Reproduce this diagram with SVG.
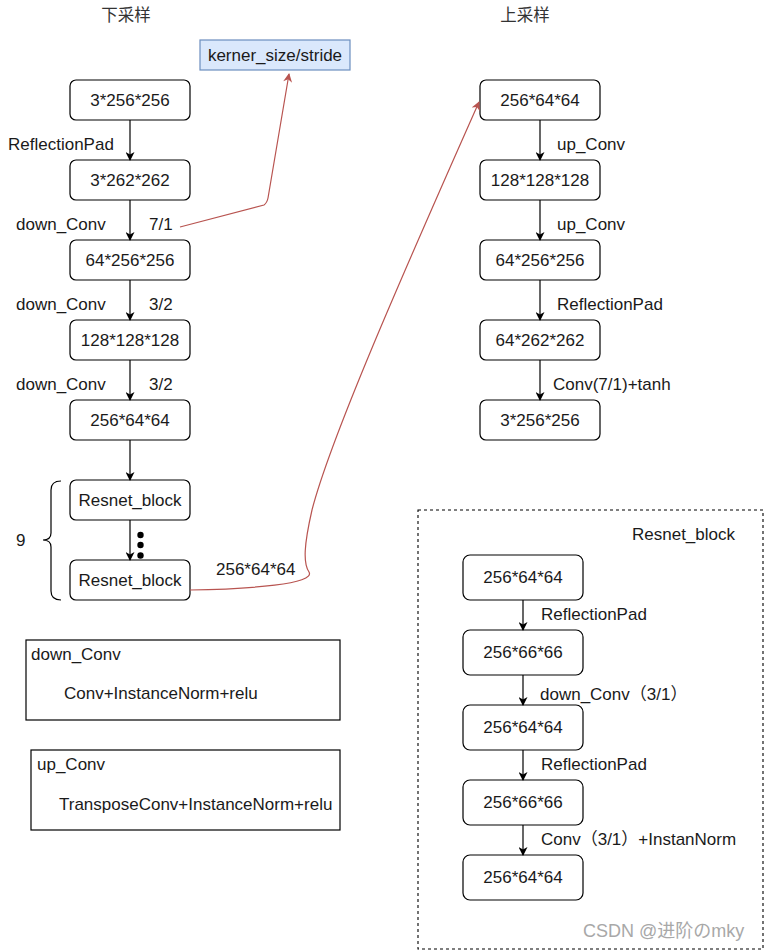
<svg xmlns="http://www.w3.org/2000/svg" width="764" height="951" viewBox="0 0 764 951">
<style>
text{font-family:"Liberation Sans",Arial,"Noto Sans CJK SC",sans-serif;font-size:17px;fill:#1a1a1a}
.c{text-anchor:middle}
.n{fill:#fff;stroke:#000;stroke-width:1.2}
.e{fill:none;stroke:#000;stroke-width:1.2}
.r{fill:none;stroke:#b85450;stroke-width:1.2}
.t{font-family:"Noto Sans CJK SC","Liberation Sans",sans-serif;font-size:16.5px;fill:#333}
</style>
<defs>
<marker id="a" viewBox="0 0 10 10" refX="9" refY="5" markerWidth="10" markerHeight="9" markerUnits="userSpaceOnUse" orient="auto"><path d="M0,0 L10,5 L0,10 L3,5 Z" fill="#000"/></marker>
<marker id="ar" viewBox="0 0 10 10" refX="9" refY="5" markerWidth="10" markerHeight="9" markerUnits="userSpaceOnUse" orient="auto"><path d="M0,0 L10,5 L0,10 L3,5 Z" fill="#b85450"/></marker>
</defs>
<rect width="764" height="951" fill="#fff"/>
<text class="t c" x="126" y="21">下采样</text>
<text class="t c" x="525" y="21">上采样</text>
<g id="note-kernel"><rect x="200" y="40" width="150" height="30" fill="#dae8fc" stroke="#6c8ebf" stroke-width="1.2"/><text class="c" x="275" y="61">kerner_size/stride</text></g>
<g id="d1"><rect class="n" x="70" y="80" width="120" height="40" rx="6"/><text class="c" x="130" y="106">3*256*256</text></g>
<g id="d2"><rect class="n" x="70" y="160" width="120" height="40" rx="6"/><text class="c" x="130" y="186">3*262*262</text></g>
<g id="d3"><rect class="n" x="70" y="240" width="120" height="40" rx="6"/><text class="c" x="130" y="266">64*256*256</text></g>
<g id="d4"><rect class="n" x="70" y="320" width="120" height="40" rx="6"/><text class="c" x="130" y="346">128*128*128</text></g>
<g id="d5"><rect class="n" x="70" y="400" width="120" height="40" rx="6"/><text class="c" x="130" y="426">256*64*64</text></g>
<g id="rb1"><rect class="n" x="70" y="480" width="120" height="40" rx="6"/><text class="c" x="130" y="506">Resnet_block</text></g>
<g id="rb2"><rect class="n" x="70" y="560" width="120" height="40" rx="6"/><text class="c" x="130" y="586">Resnet_block</text></g>
<g id="u1"><rect class="n" x="480" y="80" width="120" height="40" rx="6"/><text class="c" x="540" y="106">256*64*64</text></g>
<g id="u2"><rect class="n" x="480" y="160" width="120" height="40" rx="6"/><text class="c" x="540" y="186">128*128*128</text></g>
<g id="u3"><rect class="n" x="480" y="240" width="120" height="40" rx="6"/><text class="c" x="540" y="266">64*256*256</text></g>
<g id="u4"><rect class="n" x="480" y="320" width="120" height="40" rx="6"/><text class="c" x="540" y="346">64*262*262</text></g>
<g id="u5"><rect class="n" x="480" y="400" width="120" height="40" rx="6"/><text class="c" x="540" y="426">3*256*256</text></g>
<g id="brace"><path class="e" d="M61,481 Q51,481 51,490 L51,533 Q51,540 43,540 Q51,540 51,547 L51,591 Q51,600 61,600"/><text x="16" y="546">9</text></g>
<g id="dots" fill="#000"><circle cx="140.5" cy="535" r="3.2"/><circle cx="140.5" cy="545" r="3.2"/><circle cx="140.5" cy="555.5" r="3.2"/></g>
<g id="legend-down"><rect x="26" y="640" width="314" height="80" fill="#fff" stroke="#000" stroke-width="1.2"/><text x="31" y="660">down_Conv</text><text x="64" y="699">Conv+InstanceNorm+relu</text></g>
<g id="legend-up"><rect x="31" y="750" width="309" height="80" fill="#fff" stroke="#000" stroke-width="1.2"/><text x="37" y="770">up_Conv</text><text x="59" y="810">TransposeConv+InstanceNorm+relu</text></g>
<g id="resnet-detail">
<rect x="418" y="510" width="345" height="439" fill="none" stroke="#000" stroke-width="1.1" stroke-dasharray="3,3"/>
<text x="632" y="540">Resnet_block</text>
<g id="r1"><rect class="n" x="463" y="555" width="120" height="45" rx="7"/><text class="c" x="523" y="583">256*64*64</text></g>
<g id="r2"><rect class="n" x="463" y="630" width="120" height="45" rx="7"/><text class="c" x="523" y="658">256*66*66</text></g>
<g id="r3"><rect class="n" x="463" y="705" width="120" height="45" rx="7"/><text class="c" x="523" y="733">256*64*64</text></g>
<g id="r4"><rect class="n" x="463" y="780" width="120" height="45" rx="7"/><text class="c" x="523" y="808">256*66*66</text></g>
<g id="r5"><rect class="n" x="463" y="855" width="120" height="45" rx="7"/><text class="c" x="523" y="883">256*64*64</text></g>
</g>
<g id="connectors">
<path class="e" marker-end="url(#a)" d="M130,120 V160"/>
<path class="e" marker-end="url(#a)" d="M130,200 V240"/>
<path class="e" marker-end="url(#a)" d="M130,280 V320"/>
<path class="e" marker-end="url(#a)" d="M130,360 V400"/>
<path class="e" marker-end="url(#a)" d="M130,440 V480"/>
<path class="e" marker-end="url(#a)" d="M130,520 V560"/>
<path class="e" marker-end="url(#a)" d="M540,120 V160"/>
<path class="e" marker-end="url(#a)" d="M540,200 V240"/>
<path class="e" marker-end="url(#a)" d="M540,280 V320"/>
<path class="e" marker-end="url(#a)" d="M540,360 V400"/>
<path class="e" marker-end="url(#a)" d="M523,600 V630"/>
<path class="e" marker-end="url(#a)" d="M523,675 V705"/>
<path class="e" marker-end="url(#a)" d="M523,750 V780"/>
<path class="e" marker-end="url(#a)" d="M523,825 V855"/>
<path class="r" marker-end="url(#ar)" d="M180,227 L264,205 Q267,203 268,198 L289,74"/>
<path class="r" marker-end="url(#ar)" d="M190,590 C250,589 316,584 309,572 C303,563 304,545 312,510 C330,440 400,280 479,102"/>
</g>
<g id="labels">
<text x="8" y="150">ReflectionPad</text>
<text x="16" y="230">down_Conv</text>
<text x="149" y="230">7/1</text>
<text x="16" y="310">down_Conv</text>
<text x="149" y="310">3/2</text>
<text x="16" y="390">down_Conv</text>
<text x="149" y="390">3/2</text>
<text x="216" y="575">256*64*64</text>
<text x="557" y="150">up_Conv</text>
<text x="557" y="230">up_Conv</text>
<text x="557" y="310">ReflectionPad</text>
<text x="553" y="390">Conv(7/1)+tanh</text>
<text x="541" y="620">ReflectionPad</text>
<text x="540" y="700">down_Conv（3/1）</text>
<text x="541" y="770">ReflectionPad</text>
<text x="541" y="845">Conv（3/1）+InstanNorm</text>
</g>
<text x="583" y="937" style="font-size:18px;fill:#a8a8a8">CSDN @进阶のmky</text>
</svg>
